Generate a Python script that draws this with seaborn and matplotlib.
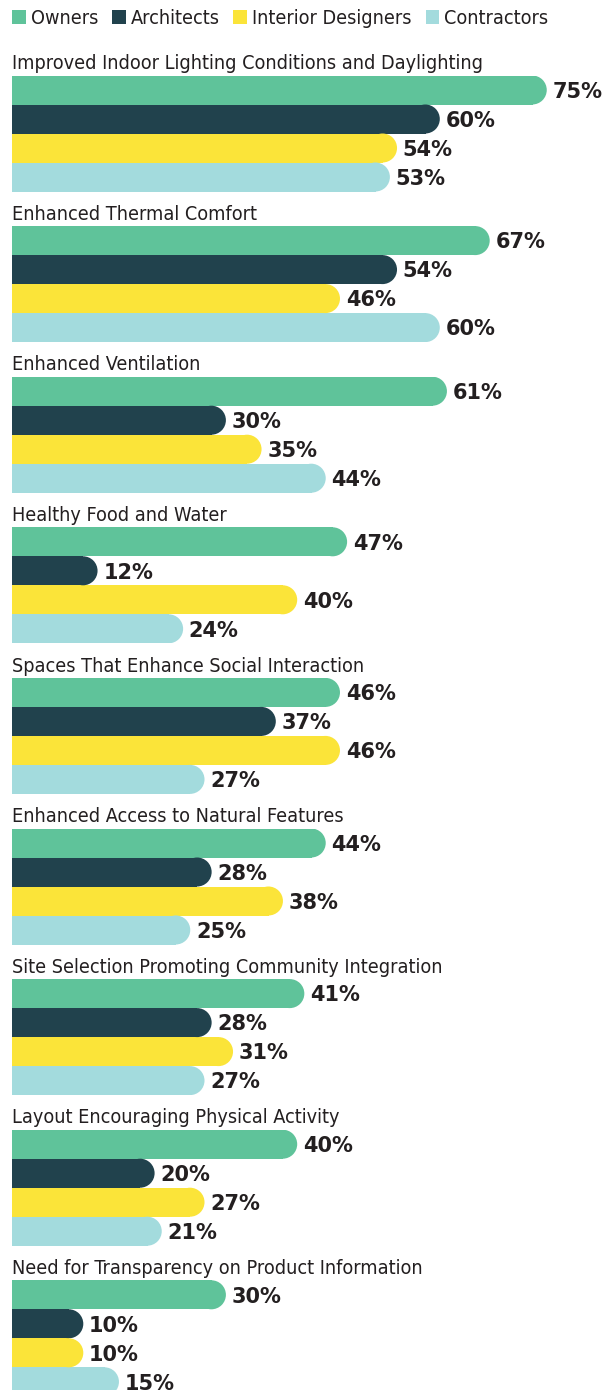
import matplotlib
matplotlib.use("Agg")
import matplotlib.pyplot as plt
from matplotlib import font_manager
import pandas as pd
import seaborn as sns
from matplotlib.patches import Ellipse

# survey data (percent)
groups = [
    "Improved Indoor Lighting Conditions and Daylighting",
    "Enhanced Thermal Comfort",
    "Enhanced Ventilation",
    "Healthy Food and Water",
    "Spaces That Enhance Social Interaction",
    "Enhanced Access to Natural Features",
    "Site Selection Promoting Community Integration",
    "Layout Encouraging Physical Activity",
    "Need for Transparency on Product Information",
]
segments = ["Owners", "Architects", "Interior Designers", "Contractors"]
owners = [75, 67, 61, 47, 46, 44, 41, 40, 30]
architects = [60, 54, 30, 12, 37, 28, 28, 20, 10]
interior_designers = [54, 46, 35, 40, 46, 38, 31, 27, 10]
contractors = [53, 60, 44, 24, 27, 25, 27, 21, 15]

colors = ["#5fc39a", "#21424d", "#fbe439", "#a3dbdd"]
TEXT = "#231f20"

# look for an upright narrow / condensed face on this machine
narrow = None
for f in sorted(font_manager.fontManager.ttflist, key=lambda f: f.fname):
    nm = (f.name + " " + str(f.stretch) + " " + f.fname).lower()
    if ("narrow" in nm or "condensed" in nm) and f.style == "normal" \
            and f.weight in (400, "normal", "regular") and "italic" not in nm \
            and "oblique" not in nm and "bold" not in f.fname.lower():
        narrow = f
        break

sns.set_theme(style="white")
plt.rcParams["font.family"] = ["DejaVu Sans"]

if narrow is not None:
    title_font = font_manager.FontProperties(fname=narrow.fname, size=14.2)
    legend_font = font_manager.FontProperties(fname=narrow.fname, size=14.2)
else:
    title_font = font_manager.FontProperties(family="DejaVu Sans", size=12.8)
    legend_font = font_manager.FontProperties(family="DejaVu Sans", size=12)

W, H = 613, 1390
fig = plt.figure(figsize=(W / 100, H / 100), dpi=100)

px_per_pct = 7.13
left_px = 12
top0 = 75.5
pitch = 150.6
bar_px = 29
xmax = (W - left_px) / px_per_pct

for k, g in enumerate(groups):
    top = top0 + pitch * k
    ax = fig.add_axes([left_px / W, 1 - (top + 4 * bar_px) / H, (W - left_px) / W, 4 * bar_px / H])
    sub = pd.DataFrame({
        "segment": segments,
        "value": [owners[k], architects[k], interior_designers[k], contractors[k]],
    })
    sns.barplot(data=sub, x="value", y="segment", hue="segment", order=segments,
                hue_order=segments, palette=colors, saturation=1, width=1.0,
                linewidth=0, orient="h", ax=ax, legend=(k == 0))
    ax.set_xlim(0, xmax)
    ax.set_ylim(3.5, -0.5)

    # round the right end of each bar
    rx = (bar_px / 2) / px_per_pct
    for p in list(ax.patches):
        x0, y0, w, h = p.get_x(), p.get_y(), p.get_width(), p.get_height()
        if w <= 0:
            continue
        p.set_width(w - rx + 0.05)
        ax.add_patch(Ellipse((x0 + w - rx, y0 + h / 2), 2 * rx, h,
                             facecolor=p.get_facecolor(), linewidth=0))
        ax.text(x0 + w + 0.8, y0 + h / 2 + 0.06, f"{w:.0f}%", va="center", ha="left",
                fontsize=15, fontweight="bold", color=TEXT)

    ax.annotate(g, xy=(0, 1), xycoords="axes fraction", xytext=(0, 4.5),
                textcoords="offset points", va="baseline", ha="left",
                color=TEXT, fontproperties=title_font)

    if k == 0:
        handles, labels = ax.get_legend_handles_labels()
        ax.get_legend().remove()
        fig.legend(handles, labels, loc="upper left", ncol=4, frameon=False,
                   bbox_to_anchor=(left_px / W, 1 - 9 / H), borderaxespad=0,
                   borderpad=0, handlelength=0.7, handleheight=0.7,
                   handletextpad=0.25, columnspacing=0.7,
                   prop=legend_font, labelcolor=TEXT)
    ax.set_axis_off()

fig.savefig("out.png", dpi=100)
